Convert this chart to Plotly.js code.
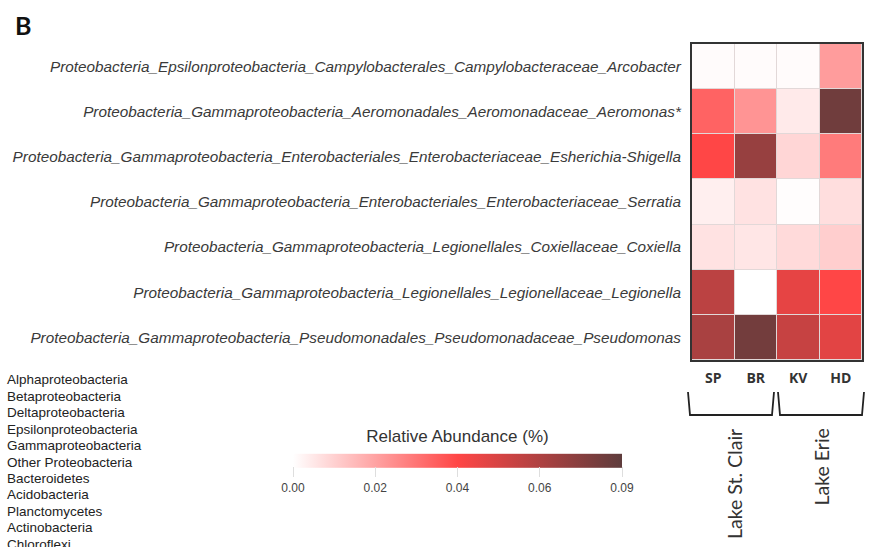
<!DOCTYPE html>
<html>
<head>
<meta charset="utf-8">
<script src="https://cdn.plot.ly/plotly-3.0.1.min.js"></script>
<style>
  html, body { margin: 0; padding: 0; background: #ffffff; }
  #chart { width: 875px; height: 547px; }
</style>
</head>
<body>
<div id="chart"></div>
<script>
// Sampling sites (columns) and taxa (rows, top to bottom)
const sites = ["SP", "BR", "KV", "HD"];
const taxa = [
  "Proteobacteria_Epsilonproteobacteria_Campylobacterales_Campylobacteraceae_Arcobacter",
  "Proteobacteria_Gammaproteobacteria_Aeromonadales_Aeromonadaceae_Aeromonas*",
  "Proteobacteria_Gammaproteobacteria_Enterobacteriales_Enterobacteriaceae_Esherichia-Shigella",
  "Proteobacteria_Gammaproteobacteria_Enterobacteriales_Enterobacteriaceae_Serratia",
  "Proteobacteria_Gammaproteobacteria_Legionellales_Coxiellaceae_Coxiella",
  "Proteobacteria_Gammaproteobacteria_Legionellales_Legionellaceae_Legionella",
  "Proteobacteria_Gammaproteobacteria_Pseudomonadales_Pseudomonadaceae_Pseudomonas"
];

// Relative abundance per taxon (rows) and site (SP, BR, KV, HD)
const arcobacter   = [0.001, 0.001, 0.001, 0.024];
const aeromonas    = [0.038, 0.026, 0.005, 0.085];
const escherichia  = [0.045, 0.074, 0.010, 0.032];
const serratia     = [0.004, 0.007, 0.0005, 0.008];
const coxiella     = [0.007, 0.006, 0.009, 0.012];
const legionella   = [0.064, 0.000, 0.052, 0.045];
const pseudomonas  = [0.069, 0.084, 0.061, 0.053];

const abundance = [arcobacter, aeromonas, escherichia, serratia, coxiella, legionella, pseudomonas];

// Colour bar tick labels
const cbTickVals = [0, 0.0225, 0.045, 0.0675, 0.09];
const cbTickText = ["0.00", "0.02", "0.04", "0.06", "0.09"];

// Phylum / class list shown in the lower left
const groupNames = [
  "Alphaproteobacteria", "Betaproteobacteria", "Deltaproteobacteria",
  "Epsilonproteobacteria", "Gammaproteobacteria", "Other Proteobacteria",
  "Bacteroidetes", "Acidobacteria", "Planctomycetes", "Actinobacteria", "Chloroflexi"
];

// Lake groupings of the sites
const lakes = ["Lake St. Clair", "Lake Erie"];

// Plot area in pixels
const W = 875, H = 547;
const L = 692, R = 862, T = 44, B = 360;
const px = x => (x - L) / (R - L);
const py = y => (B - y) / (B - T);

const sans = "Liberation Sans, Arial, sans-serif";
const humanist = "Lato, Open Sans, sans-serif";

const trace = {
  type: "heatmap",
  x: sites,
  y: taxa,
  z: abundance,
  zmin: 0,
  zmax: 0.09,
  xgap: 1,
  ygap: 1,
  colorscale: [
    [0.0, "#ffffff"],
    [0.5, "#ff4646"],
    [1.0, "#5e3c3c"]
  ],
  colorbar: {
    orientation: "h",
    x: px(457.5),
    xanchor: "center",
    xpad: 0,
    y: py(465),
    yanchor: "middle",
    ypad: 0,
    len: 329,
    lenmode: "pixels",
    thickness: 14,
    outlinewidth: 0,
    tickvals: cbTickVals,
    ticktext: cbTickText,
    ticks: "outside",
    ticklen: 10,
    tickwidth: 1,
    tickcolor: "#dedede",
    tickfont: { family: sans, size: 12, color: "#444444" },
    title: {
      text: "Relative Abundance (%)",
      side: "top",
      font: { family: sans, size: 17, color: "#333333" }
    }
  }
};

const annotations = [
  {
    text: "<b>B</b>", xref: "paper", yref: "paper",
    x: px(13), y: py(25), xanchor: "left", yanchor: "middle",
    showarrow: false,
    font: { family: humanist, size: 25, color: "#111111" }
  }
];

groupNames.forEach((name, i) => {
  annotations.push({
    text: name, xref: "paper", yref: "paper",
    x: px(5), y: py(380 + i * 16.4), xanchor: "left", yanchor: "middle",
    showarrow: false,
    font: { family: sans, size: 13.5, color: "#222222" }
  });
});

const lakeLabelX = [734, 821];
lakes.forEach((name, i) => {
  annotations.push({
    text: name, xref: "paper", yref: "paper",
    x: px(lakeLabelX[i]), y: py(427), xanchor: "center", yanchor: "top",
    textangle: -90, showarrow: false,
    font: { family: humanist, size: 19.5, color: "#333333" }
  });
});

// Brackets under the site labels grouping them by lake
const bracketX = [[688, 774], [778, 864]];
const shapes = bracketX.map(([a, b]) => ({
  type: "path", xref: "paper", yref: "paper",
  path: `M ${px(a)} ${py(392)} L ${px(a + 2)} ${py(415)} L ${px(b - 2)} ${py(415)} L ${px(b)} ${py(392)}`,
  line: { color: "#222222", width: 1.8 }
}));

const layout = {
  width: W,
  height: H,
  margin: { l: L, r: W - R, t: T, b: H - B, pad: 0 },
  paper_bgcolor: "#ffffff",
  plot_bgcolor: "#e2d8d8",
  xaxis: {
    side: "bottom",
    showline: true, mirror: true, linecolor: "#333333", linewidth: 2,
    ticks: "", showgrid: false, zeroline: false,
    ticklabelstandoff: 4,
    tickfont: { family: "Open Sans, Lato, sans-serif", size: 14, color: "#333333", weight: "bold" }
  },
  yaxis: {
    autorange: "reversed",
    showline: true, mirror: true, linecolor: "#333333", linewidth: 2,
    ticks: "", showgrid: false, zeroline: false,
    ticklabelstandoff: 6,
    tickfont: { family: sans, size: 15.3, color: "#3a3a3a", style: "italic" }
  },
  annotations: annotations,
  shapes: shapes,
  showlegend: false
};

Plotly.newPlot("chart", [trace], layout, { displayModeBar: false, staticPlot: true });
</script>
</body>
</html>
